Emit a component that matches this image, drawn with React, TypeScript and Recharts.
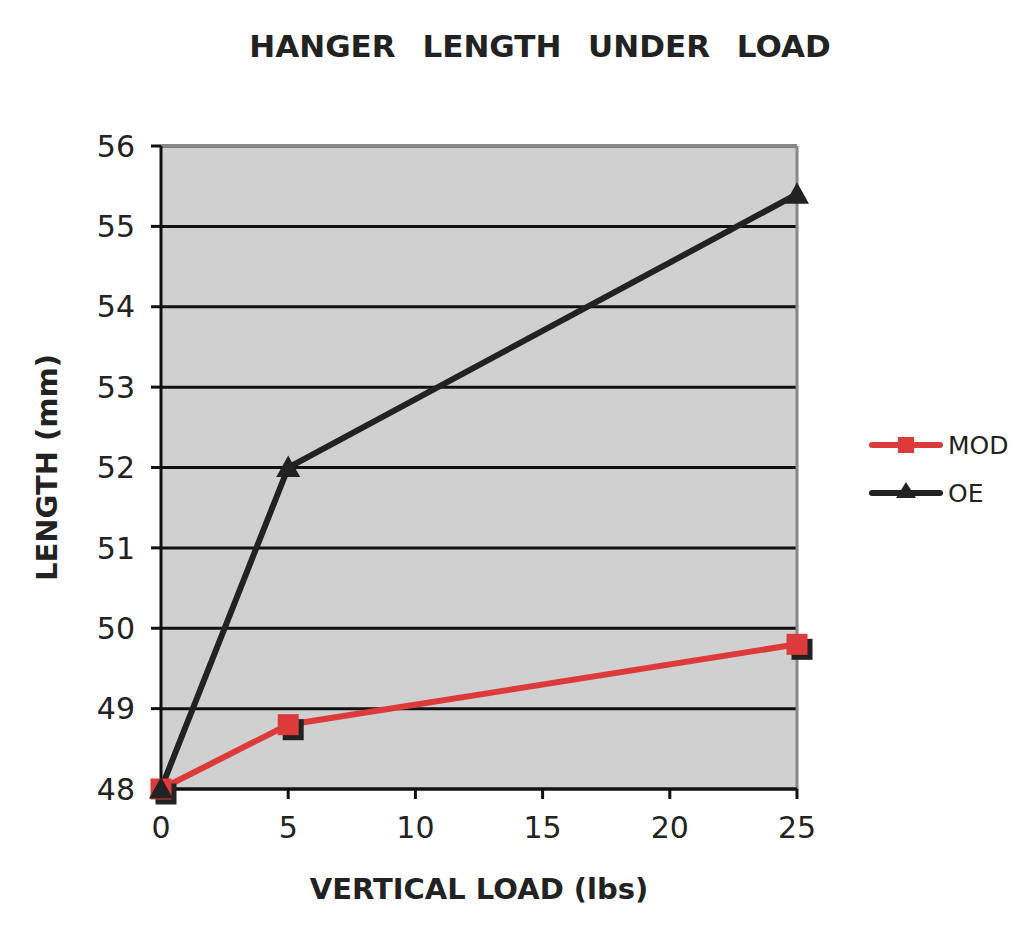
import React from 'react';
import { LineChart, Line, XAxis, YAxis, CartesianGrid, ReferenceLine, Label } from 'recharts';

const loads = [0, 5, 25];
const modLength = [48.0, 48.8, 49.8];
const oeLength = [48.0, 52.0, 55.4];
const xTicks = [0, 5, 10, 15, 20, 25];
const yTicks = [48, 49, 50, 51, 52, 53, 54, 55, 56];

const data = loads.map((load, i) => ({ load, MOD: modLength[i], OE: oeLength[i] }));

const FONT = 'Verdana, "DejaVu Sans", sans-serif';

const SquareDot = (props: any) => {
  const { cx, cy } = props;
  if (cx == null || cy == null) return null;
  const s = 21;
  return (
    <g>
      <rect x={cx - s / 2 + 5} y={cy - s / 2 + 5} width={s} height={s} fill="#222" />
      <rect x={cx - s / 2} y={cy - s / 2} width={s} height={s} fill="#dd3b3b" />
    </g>
  );
};

const TriangleDot = (props: any) => {
  const { cx, cy } = props;
  if (cx == null || cy == null) return null;
  const s = 12;
  return (
    <polygon
      points={`${cx},${cy - s} ${cx + s},${cy + s * 0.8} ${cx - s},${cy + s * 0.8}`}
      fill="#222"
    />
  );
};

const LegendBlock = () => (
  <svg width={170} height={100} style={{ position: 'absolute', left: 856, top: 410 }}>
    <line x1={8} y1={27} x2={76} y2={27} stroke="#dd3b3b" strokeWidth={6} strokeLinecap="round" />
    <rect x={34} y={19} width={16} height={16} fill="#dd3b3b" />
    <text x={84} y={36} fontSize={25} fontFamily={FONT} fill="#222">MOD</text>
    <line x1={8} y1={75} x2={76} y2={75} stroke="#222" strokeWidth={6} strokeLinecap="round" />
    <polygon points="42,64 52,80 32,80" fill="#222" />
    <text x={84} y={84} fontSize={25} fontFamily={FONT} fill="#222">OE</text>
  </svg>
);

export default function App() {
  return (
    <div style={{ position: 'relative', width: 1016, height: 919, background: '#fff' }}>
      <div
        style={{
          position: 'absolute',
          left: 0,
          top: 20,
          width: 1064,
          textAlign: 'center',
          fontFamily: FONT,
          fontWeight: 'bold',
          fontSize: 31,
          wordSpacing: 16,
          color: '#222',
        }}
      >
        HANGER LENGTH UNDER LOAD
      </div>
      <LineChart
        width={1016}
        height={919}
        data={data}
        margin={{ top: 138, right: 227, left: 33, bottom: 58 }}
      >
        <CartesianGrid vertical={false} stroke="#111" strokeWidth={3} fill="#d0d0d0" fillOpacity={1} />
        <ReferenceLine y={56} stroke="#888" strokeWidth={3} />
        <ReferenceLine x={25} stroke="#888" strokeWidth={3} />
        <XAxis
          dataKey="load"
          type="number"
          domain={[0, 25]}
          ticks={xTicks}
          stroke="#111"
          strokeWidth={3}
          tickSize={10}
          tickMargin={18}
          height={80}
          tick={{ fontSize: 30, fontFamily: FONT, fill: '#222' }}
        >
          <Label
            value="VERTICAL LOAD (lbs)"
            position="insideBottom"
            offset={-30}
            style={{ fontSize: 29, fontFamily: FONT, fontWeight: 'bold', fill: '#222' }}
          />
        </XAxis>
        <YAxis
          type="number"
          domain={[48, 56]}
          ticks={yTicks}
          stroke="#111"
          strokeWidth={3}
          tickSize={10}
          tickMargin={16}
          width={120}
          tick={{ fontSize: 30, fontFamily: FONT, fill: '#222' }}
        >
          <Label
            value="LENGTH (mm)"
            angle={-90}
            position="insideLeft"
            offset={6}
            style={{ fontSize: 29, fontFamily: FONT, fontWeight: 'bold', fill: '#222', textAnchor: 'middle' }}
          />
        </YAxis>
        <Line
          dataKey="MOD"
          stroke="#dd3b3b"
          strokeWidth={6}
          dot={<SquareDot />}
          activeDot={false}
          isAnimationActive={false}
        />
        <Line
          dataKey="OE"
          stroke="#222"
          strokeWidth={6}
          dot={<TriangleDot />}
          activeDot={false}
          isAnimationActive={false}
        />
      </LineChart>
      <LegendBlock />
    </div>
  );
}
